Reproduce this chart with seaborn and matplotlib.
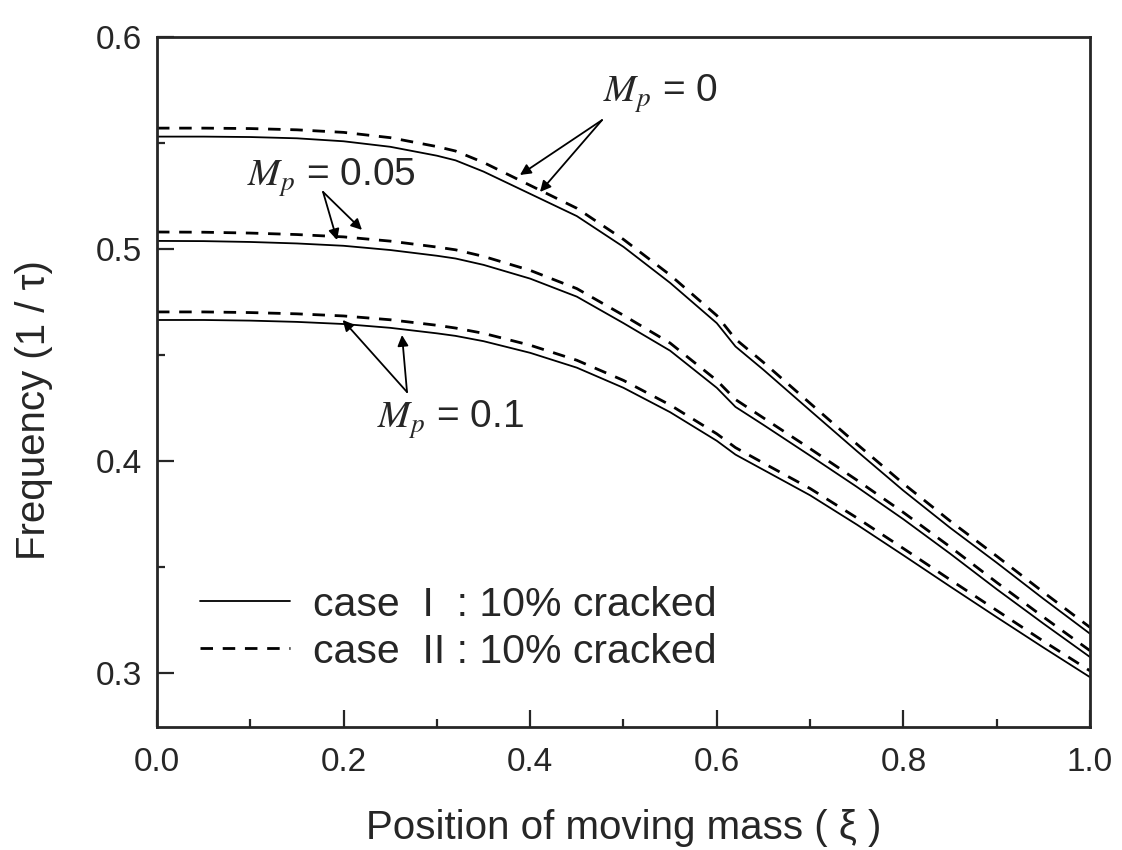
import matplotlib
matplotlib.use('Agg')
import pandas as pd
import matplotlib.pyplot as plt
import seaborn as sns
from matplotlib.lines import Line2D
from matplotlib.ticker import MultipleLocator

# position of moving mass
xi = [0.00, 0.05, 0.10, 0.15, 0.20, 0.25, 0.30, 0.32, 0.35, 0.40, 0.45, 0.50,
      0.55, 0.60, 0.62, 0.65, 0.70, 0.75, 0.80, 0.85, 0.90, 0.95, 1.00]

# case I (solid)
mp0_case1 = [0.5530, 0.5530, 0.5528, 0.5522, 0.5508, 0.5482, 0.5440, 0.5418, 0.5365, 0.5260, 0.5155, 0.5010,
             0.4840, 0.4650, 0.4540, 0.4430, 0.4238, 0.4047, 0.3860, 0.3685, 0.3520, 0.3350, 0.3185]
mp005_case1 = [0.5038, 0.5037, 0.5033, 0.5026, 0.5015, 0.4995, 0.4968, 0.4955, 0.4925, 0.4860, 0.4775, 0.4650,
               0.4520, 0.4345, 0.4255, 0.4170, 0.4025, 0.3878, 0.3725, 0.3563, 0.3395, 0.3233, 0.3075]
mp01_case1 = [0.4665, 0.4665, 0.4662, 0.4656, 0.4646, 0.4628, 0.4602, 0.4590, 0.4565, 0.4510, 0.4440, 0.4345,
              0.4230, 0.4095, 0.4030, 0.3958, 0.3838, 0.3700, 0.3555, 0.3408, 0.3263, 0.3120, 0.2980]

# case II (dashed)
mp0_case2 = [0.5570, 0.5570, 0.5568, 0.5562, 0.5550, 0.5525, 0.5483, 0.5462, 0.5408, 0.5300, 0.5192, 0.5045,
             0.4877, 0.4686, 0.4575, 0.4465, 0.4272, 0.4080, 0.3893, 0.3717, 0.3551, 0.3381, 0.3215]
mp005_case2 = [0.5080, 0.5079, 0.5075, 0.5068, 0.5057, 0.5037, 0.5009, 0.4996, 0.4965, 0.4899, 0.4813, 0.4687,
               0.4556, 0.4380, 0.4290, 0.4203, 0.4058, 0.3910, 0.3757, 0.3595, 0.3427, 0.3264, 0.3105]
mp01_case2 = [0.4703, 0.4703, 0.4700, 0.4694, 0.4684, 0.4666, 0.4640, 0.4627, 0.4602, 0.4546, 0.4475, 0.4380,
              0.4264, 0.4128, 0.4063, 0.3990, 0.3870, 0.3732, 0.3587, 0.3440, 0.3295, 0.3150, 0.3010]

legend_labels = ['case  I  : 10% cracked', 'case  II : 10% cracked']

sns.set_style('ticks')
plt.rcParams['font.family'] = ['Liberation Sans', 'DejaVu Sans']
plt.rcParams['mathtext.fontset'] = 'stix'
plt.rcParams['axes.linewidth'] = 2.0

fig = plt.figure(figsize=(11.22, 8.5), dpi=100)
ax = fig.add_axes([0.1399, 0.1447, 0.8316, 0.8118])

solid_curves = [mp0_case1, mp005_case1, mp01_case1]
dashed_curves = [mp0_case2, mp005_case2, mp01_case2]

for yy in solid_curves:
    sns.lineplot(x=xi, y=yy, ax=ax, color='black', lw=1.3, estimator=None)
for yy in dashed_curves:
    sns.lineplot(x=xi, y=yy, ax=ax, color='black', lw=2.0, estimator=None,
                 linestyle=(0, (4.5, 3.5)))

ax.set_xlim(0, 1.0)
ax.set_ylim(0.2745, 0.6)
ax.xaxis.set_major_locator(MultipleLocator(0.2))
ax.xaxis.set_minor_locator(MultipleLocator(0.1))
ax.yaxis.set_minor_locator(MultipleLocator(0.05))
ax.set_yticks([0.3, 0.4, 0.5, 0.6])
ax.tick_params(which='major', direction='in', length=12, width=1.6, labelsize=24)
ax.tick_params(which='minor', direction='in', length=6, width=1.6)
ax.tick_params(axis='x', which='major', pad=14.5)
ax.tick_params(axis='y', which='major', pad=11)
ax.tick_params(top=False, right=False, which='both')

ax.set_xlabel('Position of moving mass ( ξ )', fontsize=29, labelpad=22)
ax.set_ylabel('Frequency (1 / τ)', fontsize=29)
ax.yaxis.set_label_coords(-0.111, 0.46)

# annotations
akw = dict(arrowstyle='-|>', color='black', lw=1.3, mutation_scale=16, shrinkA=0, shrinkB=0)
ax.text(0.478, 0.5693, r'$M_p$ = 0', fontsize=28, ha='left', va='baseline')
ax.annotate('', xy=(0.389, 0.5349), xytext=(0.477, 0.5608), arrowprops=akw)
ax.annotate('', xy=(0.4105, 0.5269), xytext=(0.477, 0.5608), arrowprops=akw)

ax.text(0.0965, 0.5297, r'$M_p$ = 0.05', fontsize=28, ha='left', va='baseline')
ax.annotate('', xy=(0.193, 0.5042), xytext=(0.178, 0.5269), arrowprops=akw)
ax.annotate('', xy=(0.2197, 0.509), xytext=(0.178, 0.5269), arrowprops=akw)

ax.text(0.236, 0.4156, r'$M_p$ = 0.1', fontsize=28, ha='left', va='baseline')
ax.annotate('', xy=(0.199, 0.4665), xytext=(0.268, 0.4325), arrowprops=akw)
ax.annotate('', xy=(0.2626, 0.4594), xytext=(0.268, 0.4325), arrowprops=akw)

handles = [Line2D([], [], color='black', lw=1.3),
           Line2D([], [], color='black', lw=2.0, linestyle=(0, (4.5, 3.5)))]
ax.legend(handles, legend_labels, loc='center left', bbox_to_anchor=(0.046, 0.143),
          frameon=False, fontsize=29.5, handlelength=2.2, handletextpad=0.55,
          labelspacing=0.22, borderpad=0, borderaxespad=0)

fig.savefig('out.png', dpi=100)
